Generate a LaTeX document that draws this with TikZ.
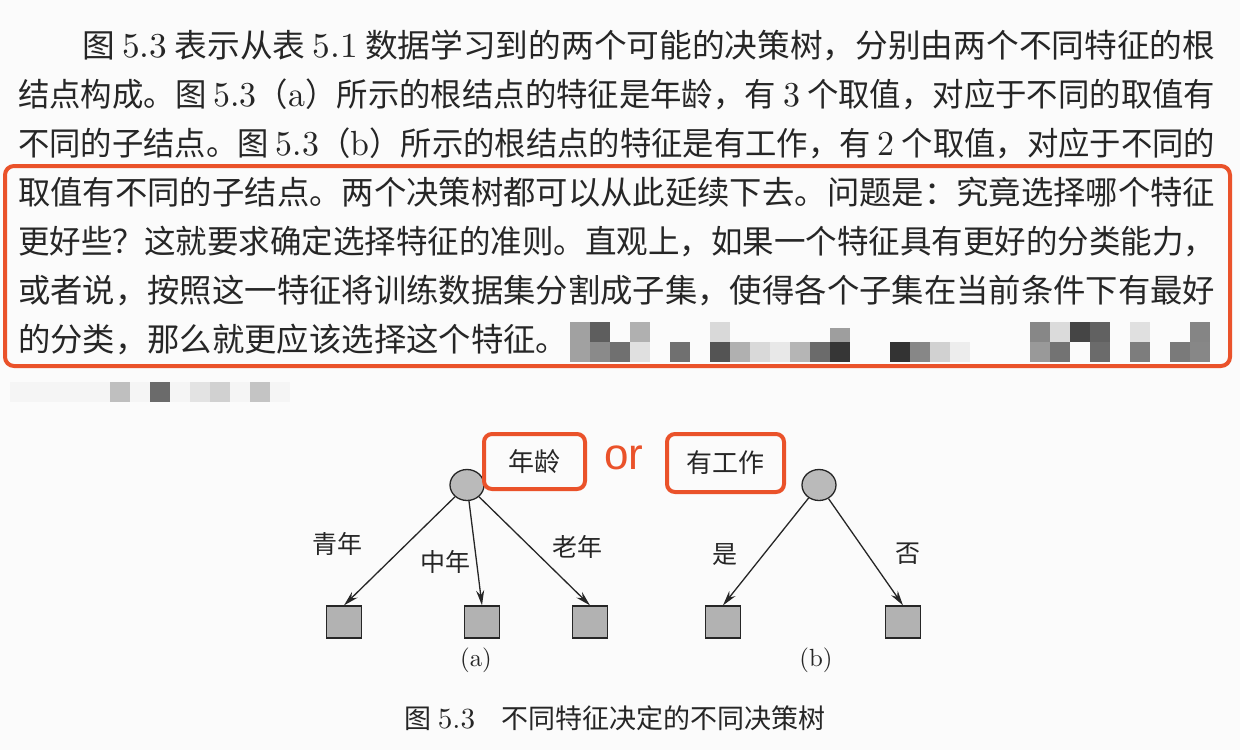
\documentclass[tikz,border=0pt]{standalone}
\usepackage{fontspec}
\usepackage{graphicx}
\setmainfont{lmroman10-regular}[Extension=.otf, Scale=1.08]
\newfontfamily\cjk{Noto Sans CJK SC}
\newfontfamily\latinsans{Liberation Sans}
\usetikzlibrary{arrows.meta,shapes.geometric}
\definecolor{annot}{RGB}{234,82,42}
\definecolor{ink}{RGB}{38,38,38}
\newcommand\lmn[1]{{\rmfamily #1}}
\newcommand\fitline[2]{\resizebox{#1}{\height}{#2}}
\begin{document}
\begin{tikzpicture}[x=1pt,y=-1pt,
  body/.style={anchor=base west, inner sep=0, text=ink, font=\cjk\fontsize{32.35}{40}\selectfont},
  root/.style={ellipse, draw=ink, fill=black!27, line width=1.3pt, minimum width=34pt, minimum height=31pt, inner sep=0},
  leaf/.style={rectangle, draw=ink, fill=black!30, line width=1.3pt, minimum width=35pt, minimum height=32pt, inner sep=0},
  arr/.style={draw=ink, line width=1.3pt, -{Stealth[length=15pt,width=8pt]}},
  lab/.style={inner sep=0, text=ink, font=\cjk\fontsize{25}{25}\selectfont},
  annobox/.style={draw=annot, line width=4pt, rounded corners=8pt, inner sep=0, text=ink, font=\cjk\fontsize{26}{26}\selectfont},
  sub/.style={inner sep=0, text=ink, font=\rmfamily\fontsize{23}{23}\selectfont}
]
\useasboundingbox (0,0) rectangle (1240,750);
\fill[black!1.5] (0,0) rectangle (1240,750);

% body text
\node[body] (l1) at (82,57)  {\fitline{1133pt}{图 \lmn{5.3} 表示从表 \lmn{5.1} 数据学习到的两个可能的决策树，分别由两个不同特征的根}};
\node[body] (l2) at (18,106) {\fitline{1197pt}{结点构成。图 \lmn{5.3}（\lmn{a}）所示的根结点的特征是年龄，有 \lmn{3} 个取值，对应于不同的取值有}};
\node[body] (l3) at (18,155) {\fitline{1197pt}{不同的子结点。图 \lmn{5.3}（\lmn{b}）所示的根结点的特征是有工作，有 \lmn{2} 个取值，对应于不同的}};
\node[body] (l4) at (18,204) {\fitline{1197pt}{取值有不同的子结点。两个决策树都可以从此延续下去。问题是：究竟选择哪个特征}};
\node[body] (l5) at (18,253) {\fitline{1197pt}{更好些？这就要求确定选择特征的准则。直观上，如果一个特征具有更好的分类能力，}};
\node[body] (l6) at (18,302) {\fitline{1197pt}{或者说，按照这一特征将训练数据集分割成子集，使得各个子集在当前条件下有最好}};
\node[body] (l7) at (18,351) {的分类，那么就更应该选择这个特征。};

% mosaic inside the box
\foreach \x/\g in {570/37,590/63,630/31,710/15,1030/47,1050/14,1070/73,1090/62,1130/12,1190/48}
  \fill[black!\g] (\x,322) rectangle ++(20,20);
\fill[black!38] (830,328) rectangle ++(20,14);
\foreach \x/\g in {570/37,590/46,610/56,630/12,670/56,710/67,730/31,750/15,770/9,790/29,810/58,830/79,890/80,910/47,930/18,950/7,1030/40,1050/55,1090/58,1130/51,1170/52,1190/47}
  \fill[black!\g] (\x,342) rectangle ++(20,20);

% mosaic below the box
\fill[black!4] (10,382) rectangle (290,402);
\foreach \x/\g in {110/25,150/58,190/11,210/18,250/23}
  \fill[black!\g] (\x,382) rectangle ++(20,20);

% red annotation box round the paragraph
\draw[draw=annot, line width=4pt, rounded corners=9pt] (5,166) rectangle (1230,366);

% tree (a)
\node[root] (ra) at (467,485) {};
\node[leaf] (a1) at (344,622) {};
\node[leaf] (a2) at (482,622) {};
\node[leaf] (a3) at (590,622) {};
\draw[arr] (ra) -- (a1.north);
\draw[arr] (ra) -- (a2.north);
\draw[arr] (ra) -- (a3.north);
\node[lab] (qa) at (337,544) {青年};
\node[lab] (za) at (445,562) {中年};
\node[lab] (la) at (577,547) {老年};
\node[annobox, minimum width=101pt, minimum height=55pt] (fa) at (534.5,461.5) {年龄};
\node[sub] (capa) at (476,660) {(a)};

% or
\node[inner sep=0, text=annot, font=\latinsans\fontsize{44}{44}\selectfont] (or) at (624,458) {or};

% tree (b)
\node[root] (rb) at (819,485) {};
\node[leaf] (b1) at (723,622) {};
\node[leaf] (b2) at (903,622) {};
\draw[arr] (rb) -- (b1.north);
\draw[arr] (rb) -- (b2.north);
\node[lab] (sb) at (725,555) {是};
\node[lab] (fb) at (908,554) {否};
\node[annobox, minimum width=117pt, minimum height=58pt] (fbx) at (725.5,463) {有工作};
\node[sub] (capb) at (816,660) {(b)};

% caption
\node[inner sep=0, text=ink, font=\cjk\fontsize{27}{27}\selectfont] (cap) at (615,718) {图 \lmn{5.3}\hspace{26pt}不同特征决定的不同决策树};
\end{tikzpicture}
\end{document}
